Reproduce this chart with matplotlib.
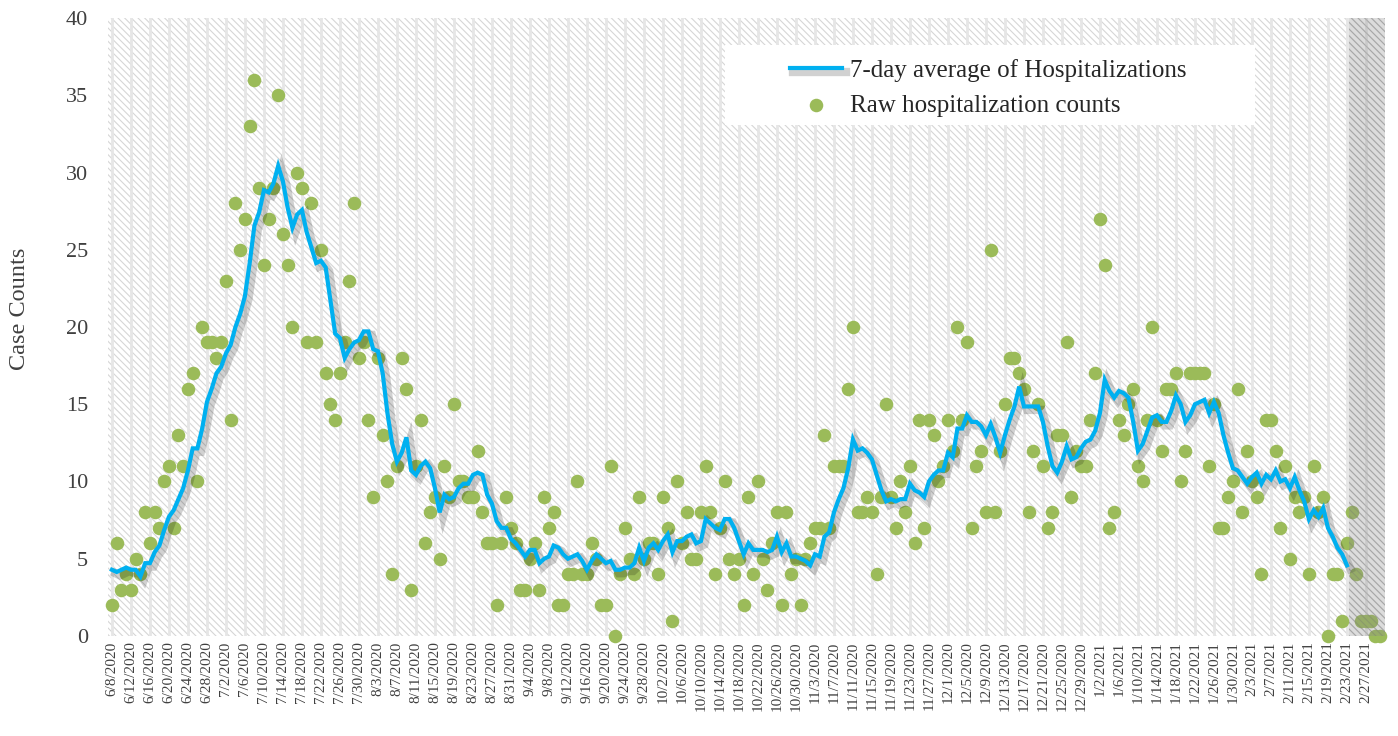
import numpy as np
import pandas as pd
import matplotlib
matplotlib.use('Agg')
import matplotlib.pyplot as plt
import matplotlib.patheffects as pe
from matplotlib.patches import Rectangle

# daily raw hospitalization counts starting 6/8/2020
start_date = '2020-06-08'
raw_counts = [
    2, 6, 3, 4, 3, 5, 4, 8, 6, 8, 7, 10, 11, 7, 13, 11, 16, 17, 10, 20,
    19, 19, 18, 19, 23, 14, 28, 25, 27, 33, 36, 29, 24, 27, 29, 35, 26, 24, 20, 30,
    29, 19, 28, 19, 25, 17, 15, 14, 17, 19, 23, 28, 18, 19, 14, 9, 18, 13, 10, 4,
    11, 18, 16, 3, 11, 14, 6, 8, 9, 5, 11, 9, 15, 10, 10, 9, 9, 12, 8, 6,
    6, 2, 6, 9, 7, 6, 3, 3, 5, 6, 3, 9, 7, 8, 2, 2, 4, 4, 10, 4,
    4, 6, 5, 2, 2, 11, 0, 4, 7, 5, 4, 9, 5, 6, 6, 4, 9, 7, 1, 10,
    6, 8, 5, 5, 8, 11, 8, 4, 7, 10, 5, 4, 5, 2, 9, 4, 10, 5, 3, 6,
    8, 2, 8, 4, 5, 2, 5, 6, 7, 7, 13, 7, 11, 11, 11, 16, 20, 8, 8, 9,
    8, 4, 9, 15, 9, 7, 10, 8, 11, 6, 14, 7, 14, 13, 10, 11, 14, 12, 20, 14,
    19, 7, 11, 12, 8, 25, 8, 12, 15, 18, 18, 17, 16, 8, 12, 15, 11, 7, 8, 13,
    13, 19, 9, 12, 11, 11, 14, 17, 27, 24, 7, 8, 14, 13, 15, 16, 11, 10, 14, 20,
    14, 12, 16, 16, 17, 10, 12, 17, 17, 17, 17, 11, 15, 7, 7, 9, 10, 16, 8, 12,
    10, 9, 4, 14, 14, 12, 7, 11, 5, 9, 8, 9, 4, 11, 8, 9, 0, 4, 4, 1,
    6, 8, 4, 1, 1, 1, 0, 0,
]
# counts of the six days before 6/8 that feed the first averages
prior_counts = [7, 2, 3, 4, 5, 7]
avg_last_day = 260      # average line stops here
shade_start = 260.5     # grey band for incomplete recent data

series = pd.Series(prior_counts + raw_counts, dtype=float)
avg = series.rolling(7).mean().iloc[len(prior_counts):].to_numpy()
dates = pd.date_range(start_date, periods=len(raw_counts))
x = np.arange(len(raw_counts))

plt.rcParams['font.family'] = ['Liberation Serif', 'DejaVu Serif']
plt.rcParams['hatch.linewidth'] = 0.8
plt.rcParams['hatch.color'] = '#d6d6d6'

fig = plt.figure(figsize=(13.98, 7.36), dpi=100)
ax = fig.add_axes([0.077, 0.1359, 0.914, 0.8396])

xmin, xmax = -0.9, len(raw_counts) + 0.1
ax.set_xlim(xmin, xmax)
ax.set_ylim(0, 40)

# hatched plot background
ax.axvspan(xmin, xmax, facecolor='white', edgecolor='#d6d6d6', hatch='\\' * 5,
           linewidth=0, zorder=0)
tick_pos = x[::4]
for t in tick_pos:
    ax.axvline(t, color='#e6e6e6', linewidth=2.0, zorder=0.5)

ax.scatter(x, raw_counts, s=95, color='#9BBB59', zorder=3, clip_on=False,
           linewidths=0, label='Raw hospitalization counts')
ax.plot(x[:avg_last_day + 1], avg[:avg_last_day + 1], color='#00B0F0', linewidth=3.0,
        solid_joinstyle='miter', zorder=4, label='7-day average of Hospitalizations',
        path_effects=[pe.SimpleLineShadow(offset=(2.5, -2.5), shadow_color='black',
                                          alpha=0.18, linewidth=6),
                      pe.Normal()])

# grey band over the most recent days
ax.axvspan(shade_start, xmax, ymin=0, ymax=1, facecolor='#8c8c8c', alpha=0.3,
           edgecolor='#707070', hatch='\\' * 5, linewidth=0, zorder=5)

ax.set_xticks(tick_pos)
ax.set_xticklabels([f'{d.month}/{d.day}/{d.year}' for d in dates[::4]],
                   rotation=90, fontsize=11, color='#404040')
ax.set_yticks(range(0, 41, 5))
ax.tick_params(axis='y', labelsize=16, colors='#404040', length=0, pad=14)
ax.tick_params(axis='x', length=0, pad=4)
for s in ax.spines.values():
    s.set_visible(False)
ax.set_ylabel('Case Counts', fontsize=17.5, color='#404040')
ax.yaxis.set_label_coords(-0.061, 0.53)

# legend: white box with entries placed inside it
ax.add_patch(Rectangle((0.483, 0.827), 0.415, 0.129, transform=ax.transAxes,
                       facecolor='white', edgecolor='none', zorder=6))
handles, labels = ax.get_legend_handles_labels()
leg = ax.legend(handles[::-1], labels[::-1], loc='upper left',
                bbox_to_anchor=(0.534, 0.934), frameon=False, fontsize=18,
                handlelength=2.1, handletextpad=0.3, labelspacing=0.5,
                borderpad=0, borderaxespad=0)
leg.set_zorder(7)
for t in leg.get_texts():
    t.set_color('#262626')

fig.savefig('out.png', dpi=100)
